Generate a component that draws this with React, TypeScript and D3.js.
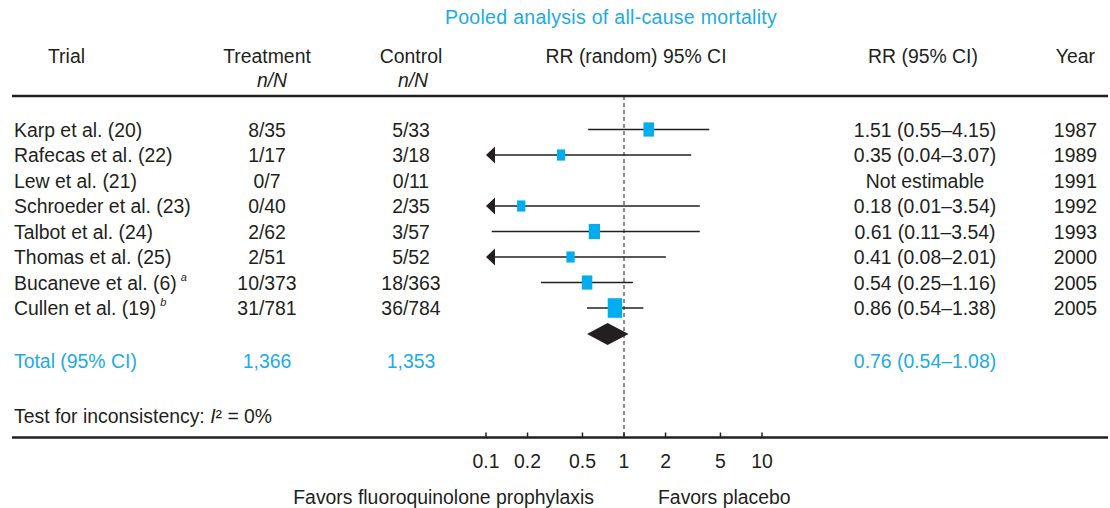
import React from "react";
import * as d3 from "d3";

const title = "Pooled analysis of all-cause mortality";
const trials = [
  "Karp et al. (20)",
  "Rafecas et al. (22)",
  "Lew et al. (21)",
  "Schroeder et al. (23)",
  "Talbot et al. (24)",
  "Thomas et al. (25)",
  "Bucaneve et al. (6)",
  "Cullen et al. (19)",
];
const footnotes = ["", "", "", "", "", "", "a", "b"];
const treatment = ["8/35", "1/17", "0/7", "0/40", "2/62", "2/51", "10/373", "31/781"];
const control = ["5/33", "3/18", "0/11", "2/35", "3/57", "5/52", "18/363", "36/784"];
const rr: (number | null)[] = [1.51, 0.35, null, 0.18, 0.61, 0.41, 0.54, 0.86];
const lo: (number | null)[] = [0.55, 0.04, null, 0.01, 0.11, 0.08, 0.25, 0.54];
const hi: (number | null)[] = [4.15, 3.07, null, 3.54, 3.54, 2.01, 1.16, 1.38];
const weights = [21, 13, 0, 13, 24, 13, 21, 40];
const years = ["1987", "1989", "1991", "1992", "1993", "2000", "2005", "2005"];
const total = { label: "Total (95% CI)", treat: "1,366", ctrl: "1,353", rr: 0.76, lo: 0.54, hi: 1.08 };
const ticks = [0.1, 0.2, 0.5, 1, 2, 5, 10];

const fmt = (v: number) => v.toFixed(2);

export default function App() {
  const W = 1110, H = 508;
  const dark = "#231f20";
  const blue = "#1aabe6";
  const sqBlue = "#00aeef";
  const font = "'Liberation Sans', Arial, sans-serif";
  const fs = 19.4;

  const x = d3.scaleLog().domain([0.1, 10]).range([486, 762]);
  const y = d3.scalePoint<string>().domain(trials).range([129.5, 308]);
  const size = d3.scaleSqrt().domain([0, 40]).range([0, 14.5]);

  const colTreat = 267, colCtrl = 411, colRR = 925, colYear = 1097;
  const topRule = 96, botRule = 437.5;
  const diamondY = 334, totalY = 361, testY = 416;

  const txt = (props: any, s: React.ReactNode, key?: any) => (
    <text key={key} fontFamily={font} fontSize={fs} fill={dark} dominantBaseline="central" {...props}>{s}</text>
  );

  return (
    <svg width={W} height={H} style={{ position: "absolute", left: 0, top: 0, background: "#fff" }}>
      <rect width={W} height={H} fill="#fff" />
      <text x={611} y={17} textAnchor="middle" dominantBaseline="central" fontFamily={font} fontSize={19.5} letterSpacing={0.3} fill={blue}>{title}</text>
      {txt({ x: 48, y: 56 }, "Trial")}
      {txt({ x: colTreat, y: 56, textAnchor: "middle" }, "Treatment")}
      {txt({ x: 272, y: 80, textAnchor: "middle", fontStyle: "italic" }, "n/N")}
      {txt({ x: colCtrl, y: 56, textAnchor: "middle" }, "Control")}
      {txt({ x: 413, y: 80, textAnchor: "middle", fontStyle: "italic" }, "n/N")}
      {txt({ x: 636, y: 56, textAnchor: "middle" }, "RR (random) 95% CI")}
      {txt({ x: 923, y: 56, textAnchor: "middle" }, "RR (95% CI)")}
      {txt({ x: 1095, y: 56, textAnchor: "end" }, "Year")}

      <line x1={12} x2={1108} y1={topRule} y2={topRule} stroke={dark} strokeWidth={2.5} />
      <line x1={12} x2={1108} y1={botRule} y2={botRule} stroke={dark} strokeWidth={2.5} />
      <line x1={x(1)} x2={x(1)} y1={topRule} y2={botRule} stroke={dark} strokeWidth={1} strokeDasharray="4,3" />

      {trials.map((t, i) => {
        const cy = y(t)!;
        return (
          <g key={t}>
            <text x={14} y={cy} fontFamily={font} fontSize={fs} fill={dark} dominantBaseline="central">
              {t}
              {footnotes[i] && <tspan fontSize={11} fontStyle="italic" dx={4} dy={-6}>{footnotes[i]}</tspan>}
            </text>
            {txt({ x: colTreat, y: cy, textAnchor: "middle" }, treatment[i])}
            {txt({ x: colCtrl, y: cy, textAnchor: "middle" }, control[i])}
            {txt({ x: colRR, y: cy, textAnchor: "middle" },
              rr[i] == null ? "Not estimable" : `${fmt(rr[i]!)} (${fmt(lo[i]!)}–${fmt(hi[i]!)})`)}
            {txt({ x: colYear, y: cy, textAnchor: "end" }, years[i])}
            {rr[i] != null && (() => {
              const l = lo[i]!, h = hi[i]!;
              const clipped = l < 0.1;
              const x1 = x(Math.max(l, 0.1));
              const x2 = x(Math.min(h, 10));
              const w = size(weights[i]);
              const hh = w * 1.35;
              return (
                <g>
                  <line x1={clipped ? x1 + 4 : x1} x2={x2} y1={cy} y2={cy} stroke={dark} strokeWidth={1.6} />
                  {clipped && <path d={`M${x1},${cy} L${x1 + 9},${cy - 8.5} L${x1 + 9},${cy + 8.5} Z`} fill={dark} />}
                  <rect x={x(rr[i]!) - w / 2} y={cy - hh / 2} width={w} height={hh} fill={sqBlue} />
                </g>
              );
            })()}
          </g>
        );
      })}

      <path
        d={`M${x(total.lo)},${diamondY} L${x(total.rr)},${diamondY - 11} L${x(total.hi)},${diamondY} L${x(total.rr)},${diamondY + 11} Z`}
        fill={dark}
      />
      {txt({ x: 14, y: totalY, fill: blue }, total.label)}
      {txt({ x: colTreat, y: totalY, fill: blue, textAnchor: "middle" }, total.treat)}
      {txt({ x: colCtrl, y: totalY, fill: blue, textAnchor: "middle" }, total.ctrl)}
      {txt({ x: colRR, y: totalY, fill: blue, textAnchor: "middle" }, `${fmt(total.rr)} (${fmt(total.lo)}–${fmt(total.hi)})`)}

      <text x={14} y={testY} fontFamily={font} fontSize={fs} fill={dark} dominantBaseline="central">
        Test for inconsistency: <tspan fontStyle="italic">I</tspan>² = 0%
      </text>

      {ticks.map((t) => (
        <g key={t}>
          <line x1={x(t)} x2={x(t)} y1={botRule - 5} y2={botRule} stroke={dark} strokeWidth={1.5} />
          {txt({ x: x(t), y: 461, textAnchor: "middle" }, String(t))}
        </g>
      ))}
      {txt({ x: 594, y: 497, textAnchor: "end" }, "Favors fluoroquinolone prophylaxis")}
      {txt({ x: 658, y: 497 }, "Favors placebo")}
    </svg>
  );
}
